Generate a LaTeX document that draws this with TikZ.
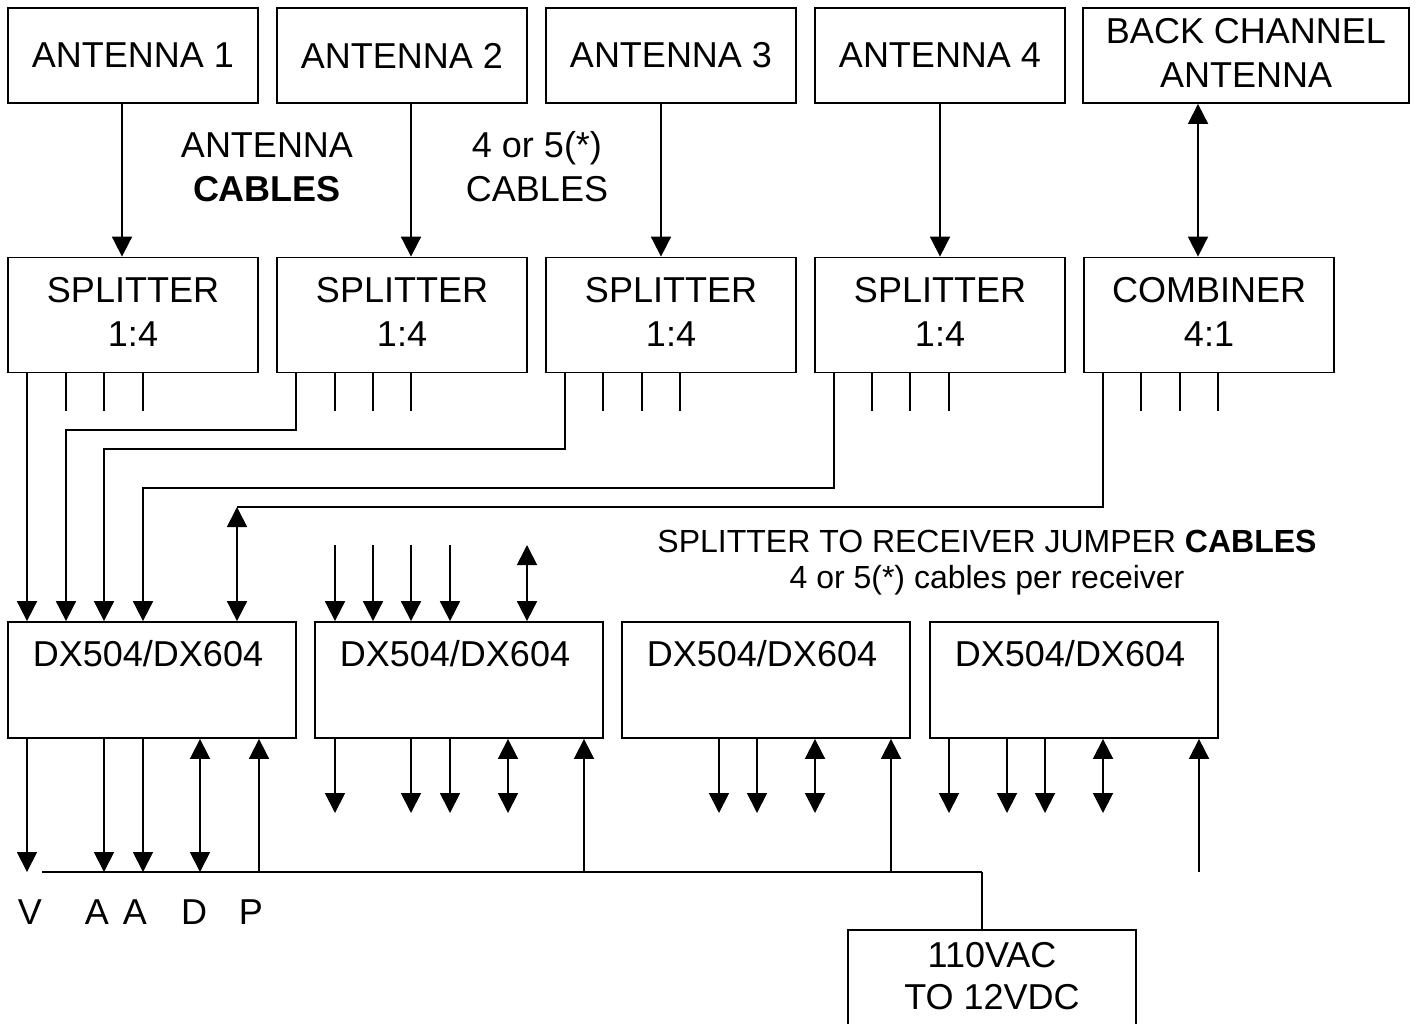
\documentclass[tikz,border=0pt]{standalone}
\usepackage{fontspec}
\setmainfont{Liberation Sans}
\usetikzlibrary{arrows.meta,calc}
\begin{document}
\begin{tikzpicture}[x=0.5pt,y=-0.5pt,
  box/.style={draw,line width=0.9pt,inner sep=0pt,align=center,font=\fontsize{18pt}{22pt}\selectfont},
  abox/.style={box,minimum width=125pt,minimum height=47.5pt},
  sbox/.style={box,minimum width=125pt,minimum height=57.5pt},
  rbox/.style={box,minimum width=144pt,minimum height=58pt},
  pbox/.style={box,minimum width=144pt,minimum height=60pt},
  lbl/.style={align=center,inner sep=0pt,font=\fontsize{18pt}{22pt}\selectfont},
  small/.style={align=center,inner sep=0pt,font=\fontsize{16pt}{18pt}\selectfont},
  wire/.style={line width=0.9pt},
  arr/.style={wire,-{Triangle[width=10pt,length=10pt]}},
  darr/.style={wire,{Triangle[width=10pt,length=10pt]}-{Triangle[width=10pt,length=10pt]}},
  bus/.style={line width=1.3pt}]
\useasboundingbox (0,0) rectangle (1416,1023);
\clip (0,0) rectangle (1416,1023);

% antennas
\node[abox] (a1) at (133,55.5) {ANTENNA 1};
\node[abox] (a2) at (402,55.5) {ANTENNA 2};
\node[abox] (a3) at (671,55.5) {ANTENNA 3};
\node[abox] (a4) at (940,55.5) {ANTENNA 4};
\node[abox,minimum width=163pt] (a5) at (1246,55.5) {};
\node[lbl] (a5t) at ($(a5.center)+(0,-2.5)$) {BACK CHANNEL\\ANTENNA};

% splitters / combiner
\node[sbox] (s1) at (133,315) {};
\node[sbox] (s2) at (402,315) {};
\node[sbox] (s3) at (671,315) {};
\node[sbox] (s4) at (940,315) {};
\node[sbox] (cmb) at (1209,315) {};
\foreach \n in {s1,s2,s3,s4}
  \node[lbl] (\n t) at ($(\n.center)+(0,-3)$) {SPLITTER\\1:4};
\node[lbl] (cmbt) at ($(cmb.center)+(0,-3)$) {COMBINER\\4:1};

% receivers
\node[rbox] (r1) at (152,680) {};
\node[rbox] (r2) at (459,680) {};
\node[rbox] (r3) at (766,680) {};
\node[rbox] (r4) at (1074,680) {};
\foreach \n in {r1,r2,r3,r4}
  \node[lbl] (\n t) at ($(\n.north)+(-4,33)$) {DX504/DX604};

% power supply
\node[pbox,anchor=north] (pwr) at (992,929) {};
\node[lbl,font=\fontsize{18pt}{21pt}\selectfont] (pt) at (992,976) {110VAC\\TO 12VDC};

% labels
\node[lbl] (l1) at (267,167) {ANTENNA\\\textbf{CABLES}};
\node[lbl] (l2) at (537,167) {4 or 5(*)\\CABLES};
\node[small] (l3) at (987,563) {SPLITTER TO RECEIVER JUMPER \textbf{CABLES}\\4 or 5(*) cables per receiver};
\node[lbl] (lv) at (30,912) {V};
\node[lbl] (la1) at (97,912) {A};
\node[lbl] (la2) at (135,912) {A};
\node[lbl] (ld) at (194,912) {D};
\node[lbl] (lp) at (251,912) {P};

% antenna cables
\draw[arr] (122,0 |- a1.south) -- (122,0 |- s1.north);
\draw[arr] (411,0 |- a2.south) -- (411,0 |- s2.north);
\draw[arr] (661,0 |- a3.south) -- (661,0 |- s3.north);
\draw[arr] (940,0 |- a4.south) -- (940,0 |- s4.north);
\draw[darr] (1198,0 |- a5.south) -- (1198,0 |- cmb.north);

% splitter output stubs
\foreach \x in {66,104,143} \draw[wire] (\x,0 |- s1.south) -- (\x,411);
\foreach \x in {335,373,411} \draw[wire] (\x,0 |- s2.south) -- (\x,411);
\foreach \x in {603,642,680} \draw[wire] (\x,0 |- s3.south) -- (\x,411);
\foreach \x in {872,910,949} \draw[wire] (\x,0 |- s4.south) -- (\x,411);
\foreach \x in {1141,1180,1218} \draw[wire] (\x,0 |- cmb.south) -- (\x,411);

% jumpers to receiver 1
\draw[arr] (27,0 |- s1.south) -- (27,0 |- r1.north);
\draw[arr] (296,0 |- s2.south) -- (296,430) -- (66,430) -- (66,0 |- r1.north);
\draw[arr] (565,0 |- s3.south) -- (565,449) -- (104,449) -- (104,0 |- r1.north);
\draw[arr] (834,0 |- s4.south) -- (834,488) -- (143,488) -- (143,0 |- r1.north);
\draw[wire] (1103,0 |- cmb.south) -- (1103,507) -- (237,507);
\draw[darr] (237,507) -- (237,0 |- r1.north);

% jumpers to receiver 2
\foreach \x in {335,373,411,450} \draw[arr] (\x,545) -- (\x,0 |- r2.north);
\draw[darr] (527,545) -- (527,0 |- r2.north);

% bus
\coordinate (busL) at (42,872);
\coordinate (busR) at (982,872);
\draw[bus] (busL) -- (busR);
\draw[wire] (busR) -- (982,0 |- pwr.north);

% receiver 1 outputs
\foreach \x in {27,104,143} \draw[arr] (\x,0 |- r1.south) -- (\x,0 |- busL);
\draw[darr] (200,0 |- r1.south) -- (200,0 |- busL);
\draw[arr] (259,0 |- busL) -- (259,0 |- r1.south);

% receiver 2 outputs
\foreach \x in {335,411,450} \draw[arr] (\x,0 |- r2.south) -- (\x,813);
\draw[darr] (508,0 |- r2.south) -- (508,813);
\draw[arr] (584,0 |- busL) -- (584,0 |- r2.south);

% receiver 3 outputs
\foreach \x in {719,757} \draw[arr] (\x,0 |- r3.south) -- (\x,813);
\draw[darr] (815,0 |- r3.south) -- (815,813);
\draw[arr] (891,0 |- busL) -- (891,0 |- r3.south);

% receiver 4 outputs
\foreach \x in {949,1007,1045} \draw[arr] (\x,0 |- r4.south) -- (\x,813);
\draw[darr] (1103,0 |- r4.south) -- (1103,813);
\coordinate (p4) at (1199,872);
\draw[arr] (p4) -- (1199,0 |- r4.south);
\end{tikzpicture}
\end{document}
